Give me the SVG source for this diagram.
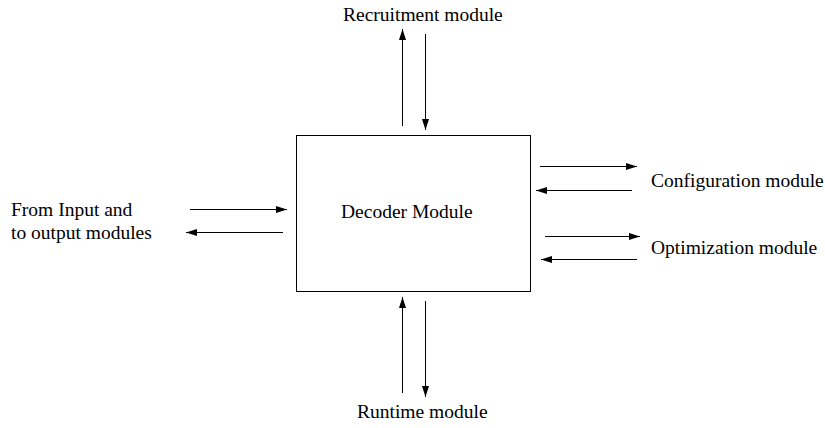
<svg xmlns="http://www.w3.org/2000/svg" width="825" height="428" viewBox="0 0 825 428">
  <style>
    text { font-family: "Liberation Serif", "Times New Roman", serif; font-size: 19.5px; fill: #000; }
    .box { fill: #fff; stroke: #000; stroke-width: 1; }
    .link { stroke: #000; stroke-width: 1; fill: none; marker-end: url(#head); }
  </style>
  <defs>
    <marker id="head" viewBox="0 0 11 7" refX="11" refY="3.5" markerWidth="11" markerHeight="7" markerUnits="userSpaceOnUse" orient="auto">
      <path d="M0,0 L11,3.5 L0,7 Z" fill="#000"/>
    </marker>
  </defs>
  <rect width="825" height="428" fill="#fff"/>

  <g id="decoder">
    <rect class="box" x="296.5" y="135.5" width="234" height="156"/>
    <text x="341" y="218">Decoder Module</text>
  </g>
  <g id="recruitment">
    <text x="343" y="21">Recruitment module</text>
  </g>
  <g id="configuration">
    <text x="651" y="187">Configuration module</text>
  </g>
  <g id="optimization">
    <text x="651" y="254">Optimization module</text>
  </g>
  <g id="io">
    <text x="11" y="216">From Input and</text>
    <text x="11" y="239">to output modules</text>
  </g>
  <g id="runtime">
    <text x="357" y="418">Runtime module</text>
  </g>

  <g id="connectors">
    <line class="link" x1="402.5" y1="126" x2="402.5" y2="29"/>
    <line class="link" x1="425.5" y1="34" x2="425.5" y2="130"/>
    <line class="link" x1="402.5" y1="393" x2="402.5" y2="297"/>
    <line class="link" x1="425.5" y1="301" x2="425.5" y2="397"/>
    <line class="link" x1="540" y1="166.5" x2="637" y2="166.5"/>
    <line class="link" x1="632" y1="190.5" x2="536" y2="190.5"/>
    <line class="link" x1="545" y1="236.5" x2="640" y2="236.5"/>
    <line class="link" x1="637" y1="259.5" x2="541" y2="259.5"/>
    <line class="link" x1="190" y1="209.5" x2="287" y2="209.5"/>
    <line class="link" x1="283" y1="232.5" x2="186" y2="232.5"/>
  </g>
</svg>
